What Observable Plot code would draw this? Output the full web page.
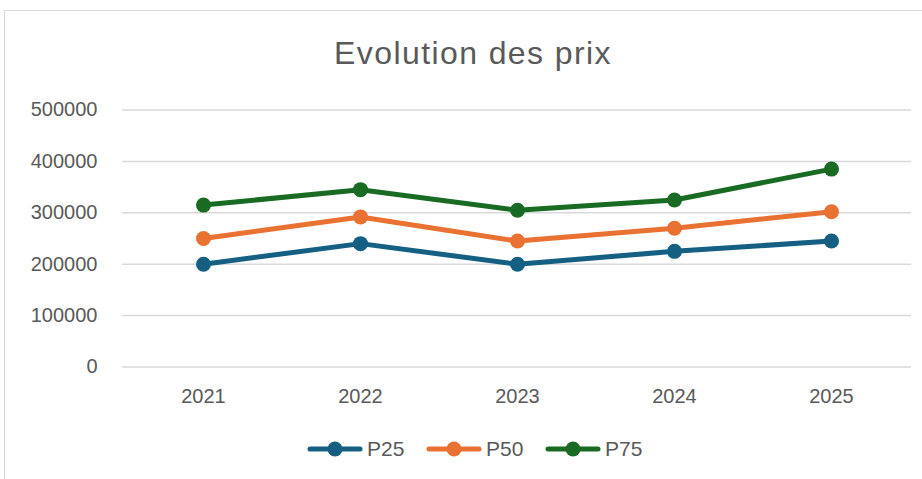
<!DOCTYPE html>
<html>
<head>
<meta charset="utf-8">
<script src="https://cdn.jsdelivr.net/npm/d3@7"></script>
<script src="https://cdn.jsdelivr.net/npm/@observablehq/plot@0.6"></script>
<style>
  html, body { margin: 0; padding: 0; background: #fff; }
  body { width: 922px; height: 479px; position: relative; overflow: hidden; font-family: "Liberation Sans", Arial, sans-serif; }
  #frame { position: absolute; left: 4px; top: 10px; width: 940px; height: 500px; border: 1.5px solid #d9d9d9; box-sizing: border-box; }
  #title { position: absolute; left: 0; width: 946px; top: 33px; text-align: center; font-size: 32px; letter-spacing: 1.4px; color: #595959; line-height: 40px; }
  #chart { position: absolute; left: 0; top: 85px; }
  #legend { position: absolute; left: 307px; top: 437px; display: flex; align-items: center; font-size: 21px; color: #595959; }
  .item { display: flex; align-items: center; width: 119px; }
  .item svg { margin-right: 4px; }
</style>
</head>
<body>
<div id="frame"></div>
<div id="title">Evolution des prix</div>
<div id="chart"></div>
<div id="legend"></div>
<script>
const years = ["2021", "2022", "2023", "2024", "2025"];
const series = ["P25", "P50", "P75"];
const p25 = [200000, 240000, 200000, 225000, 245000];
const p50 = [250000, 292000, 245000, 270000, 302000];
const p75 = [315000, 345000, 305000, 325000, 385000];
const yTicks = [0, 100000, 200000, 300000, 400000, 500000];
const colors = ["#156082", "#E97132", "#196B24"];

const values = [p25, p50, p75];
const data = [];
series.forEach((s, i) => years.forEach((y, j) => data.push({series: s, year: y, value: values[i][j]})));

const chart = Plot.plot({
  width: 922,
  height: 335,
  marginLeft: 122,
  marginRight: 11,
  marginTop: 24.5,
  marginBottom: 53.5,
  style: {fontFamily: "'Liberation Sans', Arial, sans-serif", fontSize: "20px", color: "#595959", background: "transparent"},
  x: {type: "point", domain: years, padding: 0.5},
  y: {domain: [0, 500000]},
  color: {domain: series, range: colors},
  marks: [
    Plot.ruleY(yTicks, {stroke: "#d9d9d9", strokeWidth: 1.5, strokeOpacity: 1}),
    Plot.axisY({ticks: yTicks, tickSize: 0, tickPadding: 25, tickFormat: d => String(d), label: null, fill: "#595959"}),
    Plot.axisX({tickSize: 0, tickPadding: 22, label: null, fill: "#595959"}),
    Plot.line(data, {x: "year", y: "value", z: "series", stroke: "series", strokeWidth: 5, strokeLinejoin: "round", strokeLinecap: "round"}),
    Plot.dot(data, {x: "year", y: "value", fill: "series", r: 7.5, stroke: null})
  ]
});
document.getElementById("chart").appendChild(chart);

const legend = document.getElementById("legend");
series.forEach((s, i) => {
  const item = document.createElement("div");
  item.className = "item";
  item.innerHTML = `<svg width="56" height="20"><line x1="3" y1="10" x2="53" y2="10" stroke="${colors[i]}" stroke-width="5" stroke-linecap="round"/><circle cx="28" cy="10" r="7.5" fill="${colors[i]}"/></svg><span>${s}</span>`;
  legend.appendChild(item);
});
</script>
</body>
</html>
